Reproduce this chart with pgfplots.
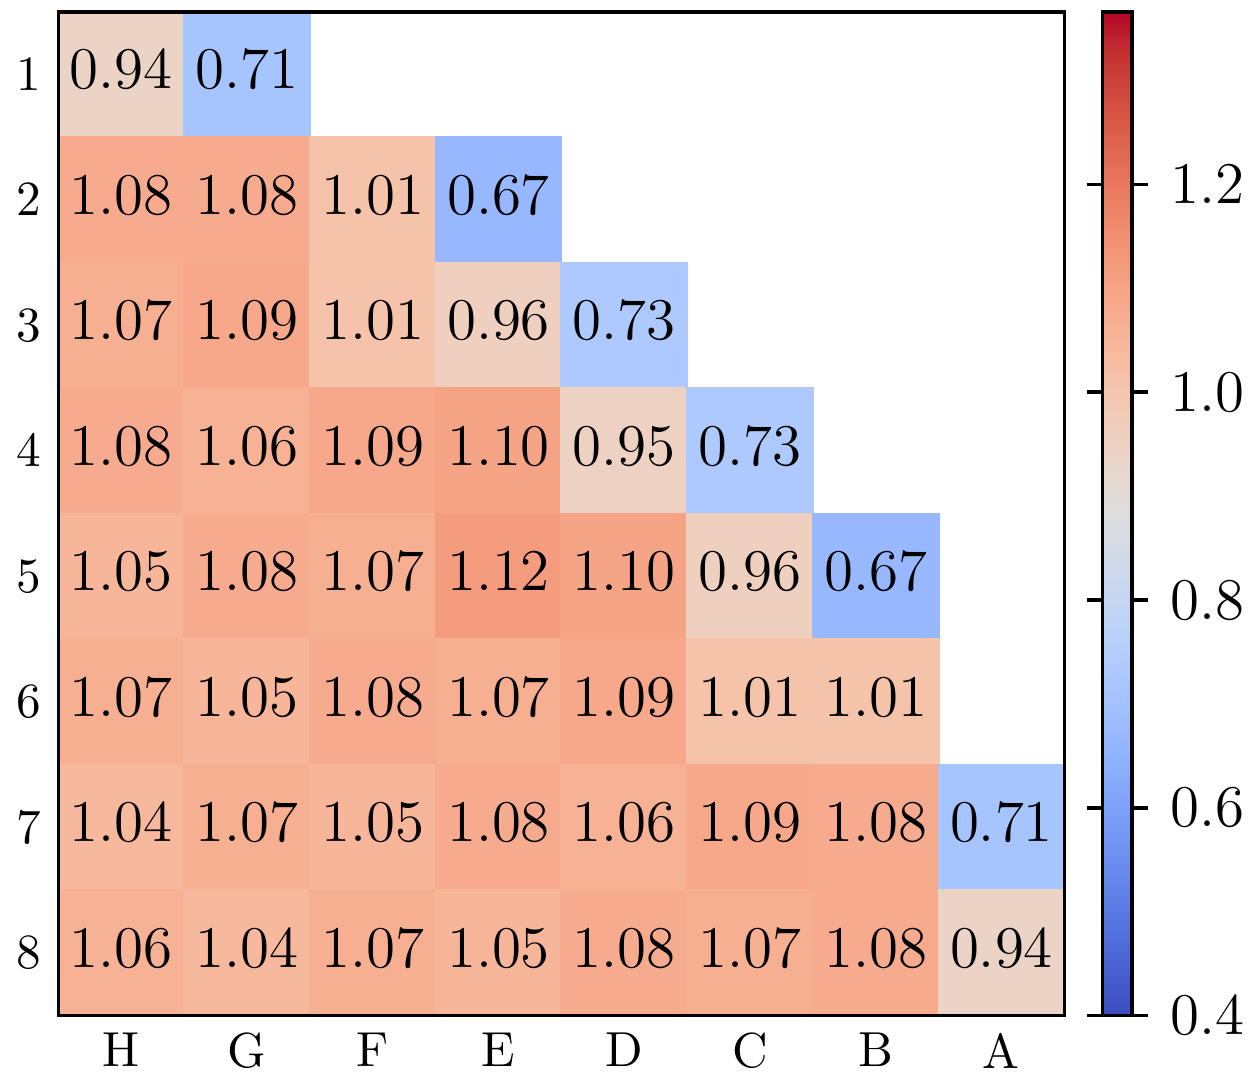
\documentclass[border=0pt]{standalone}
\usepackage{pgfplots}
\usepackage{pgfplotstable}
\pgfplotsset{compat=1.18}

\pgfplotstableread{
x y c
0 1 0.94
1 1 0.71
0 2 1.08
1 2 1.08
2 2 1.01
3 2 0.67
0 3 1.07
1 3 1.09
2 3 1.01
3 3 0.96
4 3 0.73
0 4 1.08
1 4 1.06
2 4 1.09
3 4 1.10
4 4 0.95
5 4 0.73
0 5 1.05
1 5 1.08
2 5 1.07
3 5 1.12
4 5 1.10
5 5 0.96
6 5 0.67
0 6 1.07
1 6 1.05
2 6 1.08
3 6 1.07
4 6 1.09
5 6 1.01
6 6 1.01
0 7 1.04
1 7 1.07
2 7 1.05
3 7 1.08
4 7 1.06
5 7 1.09
6 7 1.08
7 7 0.71
0 8 1.06
1 8 1.04
2 8 1.07
3 8 1.05
4 8 1.08
5 8 1.07
6 8 1.08
7 8 0.94
}\cells

\begin{document}
\begin{tikzpicture}
\begin{axis}[
  set layers,
  axis on top,
  scale only axis,
  width=204.4pt, height=204pt,
  xmin=-0.5, xmax=7.5, ymin=0.5, ymax=8.5,
  y dir=reverse,
  xtick={0,1,2,3,4,5,6,7},
  xticklabels={H,G,F,E,D,C,B,A},
  ytick={1,2,3,4,5,6,7,8},
  major tick length=0pt,
  tick label style={font=\fontsize{10}{12}\selectfont},
  axis line style={line width=0.7pt},
  colormap={coolwarm}{
    rgb255=(59,76,192) rgb255=(68,90,204) rgb255=(77,104,215) rgb255=(87,117,225)
    rgb255=(98,130,234) rgb255=(108,142,241) rgb255=(119,154,247) rgb255=(130,165,251)
    rgb255=(141,176,254) rgb255=(152,185,255) rgb255=(163,194,255) rgb255=(174,201,253)
    rgb255=(184,208,249) rgb255=(194,213,244) rgb255=(204,217,238) rgb255=(213,219,230)
    rgb255=(221,221,221) rgb255=(229,216,209) rgb255=(236,211,197) rgb255=(241,204,184)
    rgb255=(245,196,172) rgb255=(247,187,160) rgb255=(247,177,148) rgb255=(247,166,137)
    rgb255=(244,154,123) rgb255=(241,141,111) rgb255=(236,127,99) rgb255=(229,112,88)
    rgb255=(222,96,77) rgb255=(213,80,66) rgb255=(203,62,56) rgb255=(192,40,47)
    rgb255=(180,4,38)
  },
  point meta min=0.4, point meta max=1.366,
  colorbar,
  colorbar/width=6pt,
  colorbar style={
    at={(parent axis.north east)}, anchor=north west, xshift=-0.8pt,
    ytick={0.4,0.6,0.8,1.0,1.2},
    yticklabel style={font=\fontsize{12}{14}\selectfont, inner xsep=2.5pt, xshift=2pt,
      /pgf/number format/.cd, fixed, fixed zerofill, precision=1},
    ytick align=outside,
    major tick length=3.2pt,
    tick style={line width=0.7pt, black},
    axis line style={line width=0.7pt},
  },
]
\addplot+[
  scatter, only marks, mark=square*, mark size=12.78pt,
  scatter src=explicit,
  scatter/use mapped color={draw=mapped color, fill=mapped color},
] table[x=x, y=y, meta=c] {\cells};
\addplot[
  only marks, mark=*, mark size=0pt, draw opacity=0, fill opacity=0,
  point meta=explicit,
  nodes near coords={\pgfmathprintnumber[fixed,fixed zerofill,precision=2]{\pgfplotspointmeta}},
  nodes near coords style={anchor=center, font=\fontsize{12.6}{14}\selectfont, text=black, text opacity=1, yshift=1pt},
] table[x=x, y=y, meta=c] {\cells};
\end{axis}
\path ([yshift=2.4pt]current axis.north);
\end{tikzpicture}
\end{document}
